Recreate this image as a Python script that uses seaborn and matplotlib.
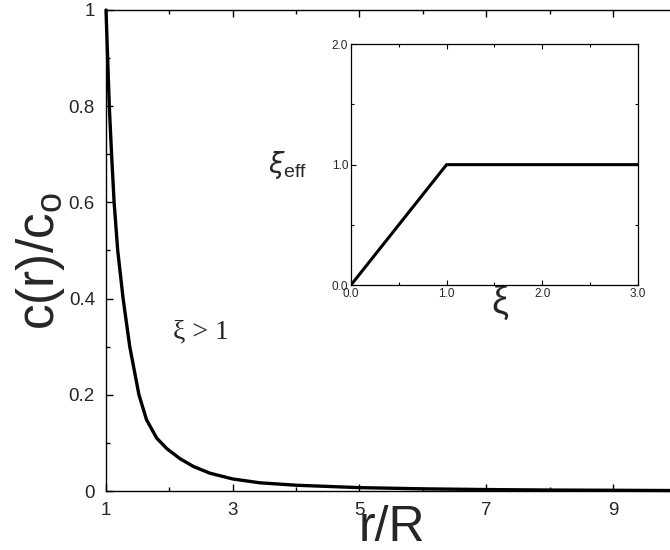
import matplotlib
matplotlib.use("Agg")
import matplotlib.pyplot as plt
from matplotlib.ticker import MultipleLocator, FixedLocator
import seaborn as sns
import pandas as pd

# Concentration profile c(r)/c_o against r/R
r_over_R = [1.0, 1.026, 1.052, 1.088, 1.128, 1.185, 1.27, 1.375, 1.52, 1.64,
            1.80, 1.96, 2.17, 2.38, 2.64, 3.0, 3.43, 4.0, 5.0, 6.0, 7.0, 8.0, 9.0, 9.9]
c_ratio = [1.0, 0.9, 0.8, 0.7, 0.6, 0.5, 0.4, 0.3, 0.2, 0.148,
           0.11, 0.088, 0.067, 0.051, 0.037, 0.025, 0.017, 0.012, 0.007, 0.0045,
           0.003, 0.002, 0.0015, 0.001]

# Inset: effective xi against xi
xi = [0.0, 1.0, 3.0]
xi_eff = [0.0, 1.0, 1.0]

main_xticks = [1, 3, 5, 7, 9]
main_yticks = [0, 0.2, 0.4, 0.6, 0.8, 1.0]
main_yticklabels = ["0", "0.2", "0.4", "0.6", "0.8", "1"]
inset_xticks = [0.0, 1.0, 2.0, 3.0]
inset_yticks = [0.0, 1.0, 2.0]

sns.set_theme(style="ticks")
plt.rcParams["font.family"] = ["Liberation Sans", "DejaVu Sans"]
plt.rcParams["mathtext.fontset"] = "custom"
plt.rcParams["mathtext.rm"] = "Liberation Sans"

fig = plt.figure(figsize=(6.7, 5.5), dpi=100)
fig.patch.set_facecolor("white")

# ---- main panel ----
ax = fig.add_axes([106 / 670, 1 - 491 / 550, 1 - 106 / 670, (491 - 10) / 550])
profile = pd.DataFrame({"r": r_over_R, "c": c_ratio})
sns.lineplot(data=profile, x="r", y="c", ax=ax, color="black", linewidth=2.4,
             estimator=None, sort=False, clip_on=False)
ax.set_xlim(1, 9.9)
ax.set_ylim(0, 1)
ax.set_facecolor("white")
ax.spines["right"].set_visible(False)
for s in ("left", "bottom", "top"):
    ax.spines[s].set_linewidth(1.0)
    ax.spines[s].set_color("black")
ax.xaxis.set_major_locator(FixedLocator(main_xticks))
ax.xaxis.set_minor_locator(MultipleLocator(1))
ax.set_yticks(main_yticks)
ax.set_yticklabels(main_yticklabels)
ax.yaxis.set_minor_locator(MultipleLocator(0.1))
ax.tick_params(which="both", direction="in", top=True, right=False,
               color="black", width=1.0)
ax.tick_params(which="major", length=5, labelsize=13.5, pad=8)
ax.tick_params(which="minor", length=3)
ax.set_xlabel("r/R", fontsize=36, labelpad=0)
ax.xaxis.set_label_coords(0.507, -0.03)
ax.set_ylabel(r"$\mathregular{c(r)/c_o}$", fontsize=37)
ax.yaxis.set_label_coords(-0.07, 0.478)
ax.text(2.05, 0.33, "ξ > 1", fontsize=20, family=["Liberation Serif", "DejaVu Serif"],
        ha="left", va="center")

# ---- inset ----
ins = fig.add_axes([351 / 670, 1 - 285 / 550, (637.7 - 351) / 670, (285 - 44.3) / 550])
ins.set_facecolor("white")
inset_df = pd.DataFrame({"xi": xi, "xi_eff": xi_eff})
sns.lineplot(data=inset_df, x="xi", y="xi_eff", ax=ins, color="black", linewidth=2.2,
             estimator=None, sort=False)
ins.set_xlim(0, 3)
ins.set_ylim(0, 2)
for s in ins.spines.values():
    s.set_linewidth(0.9)
    s.set_color("black")
ins.set_xticks(inset_xticks)
ins.set_xticklabels([f"{v:.1f}" for v in inset_xticks])
ins.xaxis.set_minor_locator(MultipleLocator(0.5))
ins.set_yticks(inset_yticks)
ins.set_yticklabels([f"{v:.1f}" for v in inset_yticks])
ins.yaxis.set_minor_locator(MultipleLocator(0.5))
ins.tick_params(which="both", direction="in", top=True, right=True,
                color="black", width=0.8)
ins.tick_params(which="major", length=3.5, labelsize=8.5, pad=2)
ins.tick_params(which="minor", length=2.5)
ins.set_xlabel("ξ", fontsize=27, labelpad=0)
ins.xaxis.set_label_coords(0.52, 0.0)
ins.set_ylabel("")
ins.text(-0.22, 0.5, r"$\xi_{\mathregular{eff}}$", transform=ins.transAxes,
         fontsize=20, ha="center", va="center")

fig.savefig("out.png", dpi=100, facecolor="white")
